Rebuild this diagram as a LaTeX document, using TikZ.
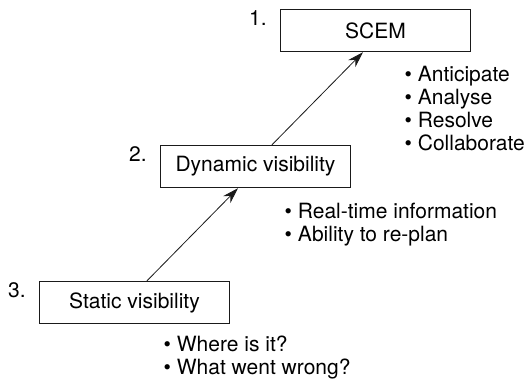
\documentclass[tikz,border=0pt]{standalone}
\usepackage{fontspec}
\setmainfont{TeX Gyre Heros}
\usepackage{tikz}
\usetikzlibrary{arrows.meta, positioning, calc}
\definecolor{inkblack}{HTML}{1A1A1A}
\tikzset{
  level/.style={
    rectangle, draw=inkblack, line width=1.4pt,
    minimum width=190pt, minimum height=42pt,
    text centered, inner sep=0pt,
    font=\fontsize{21}{23}\selectfont,
  },
  num/.style={
    anchor=north east, inner sep=0pt,
    font=\fontsize{21}{23}\selectfont,
  },
  points/.style={
    anchor=north west, inner sep=0pt, align=left,
    font=\fontsize{21}{23}\selectfont,
  },
  arrow/.style={-{Stealth[length=16pt,width=10pt]}, line width=0.8pt, color=inkblack},
}
\begin{document}
\begin{tikzpicture}[x=1pt,y=-1pt]
  \useasboundingbox (0,0) rectangle (531,383);
  \node[level] (scem) at (375.5,30.5) {SCEM};
  \node[level] (dynamic) at (255.5,166.5) {Dynamic visibility};
  \node[level] (static) at (134.5,302.5) {Static visibility};
  \node[num] (n1) at ([xshift=-13pt,yshift=-2pt]scem.north west) {1.};
  \node[num] (n2) at ([xshift=-13pt,yshift=-2pt]dynamic.north west) {2.};
  \node[num] (n3) at ([xshift=-13pt,yshift=-2pt]static.north west) {3.};
  \node[points] (scemlist) at ([xshift=29pt,yshift=-14pt]scem.south)
    {• Anticipate\\• Analyse\\• Resolve\\• Collaborate};
  \node[points] (dynlist) at ([xshift=29pt,yshift=-15pt]dynamic.south)
    {• Real-time information\\• Ability to re-plan};
  \node[points] (statlist) at ([xshift=29pt,yshift=-12pt]static.south)
    {• Where is it?\\• What went wrong?};
  \draw[arrow] ([xshift=12.5pt]static.north)--([xshift=-17.5pt]dynamic.south);
  \draw[arrow] ([xshift=16.5pt]dynamic.north)--([xshift=-12.5pt]scem.south);
\end{tikzpicture}
\end{document}
